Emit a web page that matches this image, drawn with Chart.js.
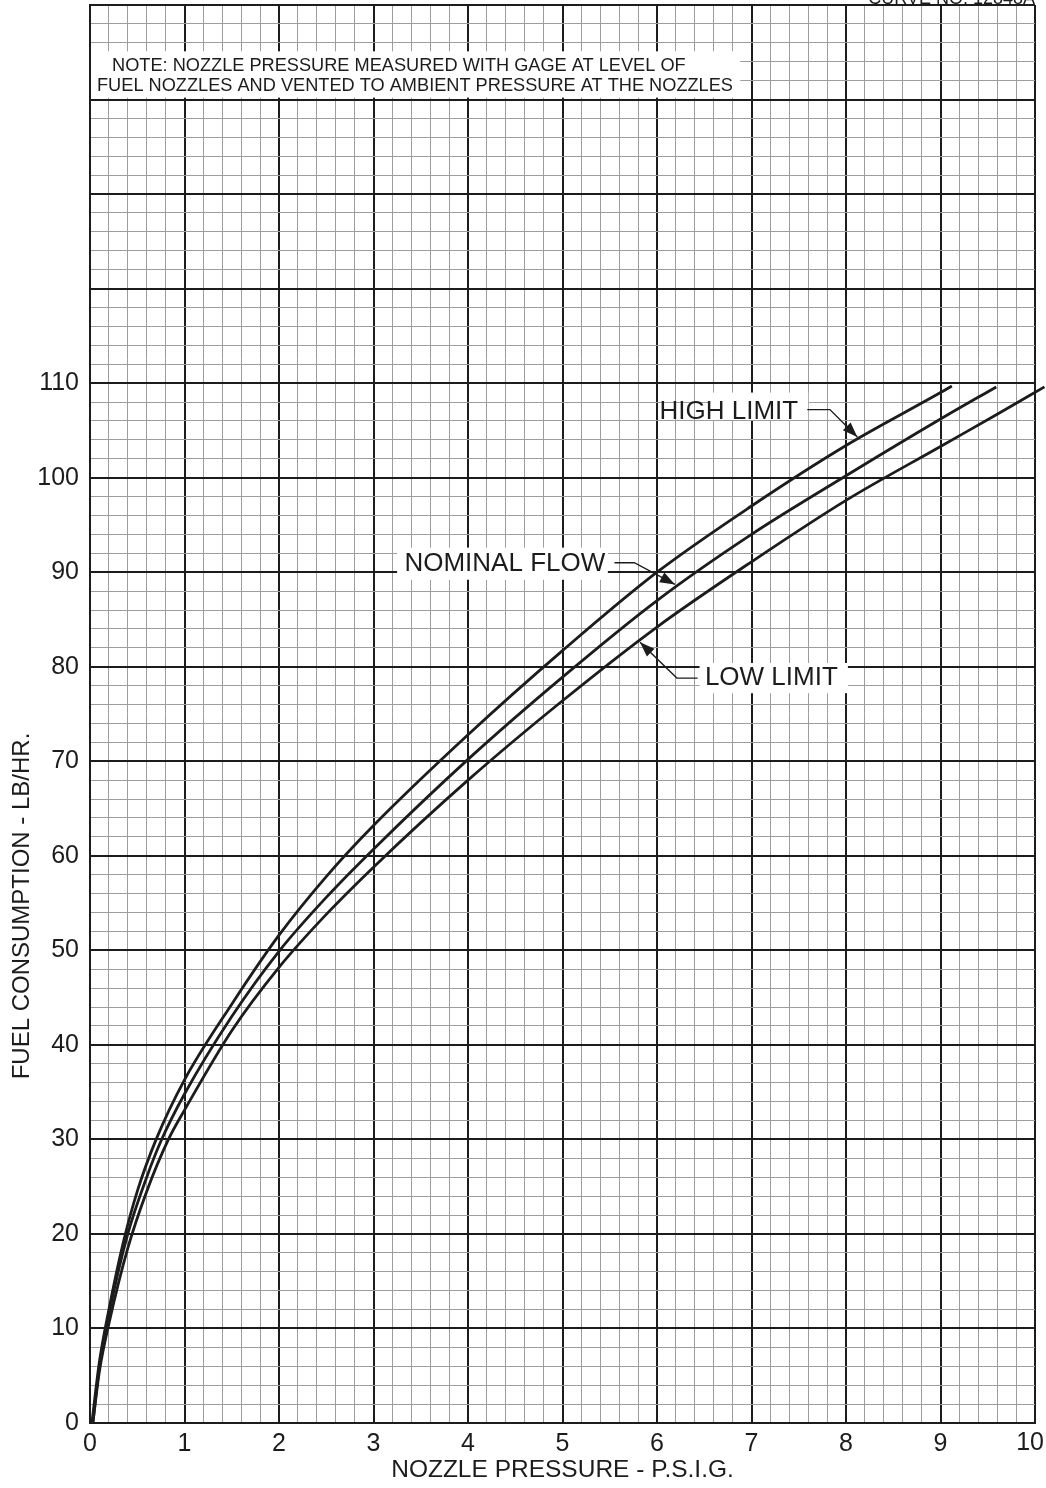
<!DOCTYPE html>
<html>
<head>
<meta charset="utf-8">
<script src="https://cdn.jsdelivr.net/npm/chart.js@4.4.1/dist/chart.umd.min.js"></script>
<style>
  html, body { margin: 0; padding: 0; background: #fff; }
  #wrap { width: 1046px; height: 1488px; }
</style>
</head>
<body>
<div id="wrap"><canvas id="fuelChart" width="1046" height="1488"></canvas></div>
<script>
// curve readings (pressure psig -> lb/hr)
const highX = [0.02, 0.1, 0.2, 0.35, 0.5, 0.7, 1, 1.5, 2, 2.5, 3, 4, 5, 6, 7, 8, 9, 9.12];
const highY = [0, 6.5, 12, 19, 24.5, 30, 36.3, 44.3, 51.6, 57.8, 63.2, 72.8, 81.7, 90, 97, 103.4, 109, 109.7];

const nominalX = [0.03, 0.1, 0.2, 0.4, 0.6, 0.75, 1, 1.5, 2, 2.5, 3, 4, 5, 6, 7, 8, 9, 9.59];
const nominalY = [0, 6, 11.5, 20, 26, 29.8, 34.8, 43, 49.9, 55.6, 60.7, 70.2, 78.9, 87, 94, 100.2, 106.2, 109.6];

// the low limit runs a little past the 10 psig edge
const lowX = [0.03, 0.1, 0.2, 0.4, 0.6, 0.83, 1, 1.5, 2, 2.5, 3, 4, 5, 6, 7, 8, 9, 9.6, 10.1];
const lowY = [0, 5.5, 10.5, 18.5, 24.5, 30, 33.1, 41.5, 48.2, 53.8, 58.8, 68, 76.4, 84.2, 91.1, 97.6, 103.3, 106.7, 109.6];

const xTickLabels = ['0', '1', '2', '3', '4', '5', '6', '7', '8', '9', '10'];
const yTickLabels = ['0', '10', '20', '30', '40', '50', '60', '70', '80', '90', '100', '110'];

const FONT = '"Liberation Sans", Arial, sans-serif';
const INK = '#1c1c1c';

function pts(xs, ys) {
  return xs.map((x, i) => ({ x: x, y: ys[i] }));
}

function isMajorX(v) { return Math.abs(v - Math.round(v)) < 1e-6; }
function isMajorY(v) { return Math.abs(v / 10 - Math.round(v / 10)) < 1e-6; }

// callout labels, in data units: text centre, white box, leader path ending at arrow tip
const callouts = [
  { text: 'HIGH LIMIT', cx: 6.76, cy: 107.0, box: [6.55, 106.1, 7.60, 109.0],
    path: [[7.59, 107.2], [7.83, 107.2], [8.12, 104.3]] },
  { text: 'NOMINAL FLOW', cx: 4.39, cy: 90.9, box: [3.25, 89.2, 5.48, 92.6],
    path: [[5.55, 91.0], [5.76, 91.0], [6.19, 88.7]] },
  { text: 'LOW LIMIT', cx: 7.21, cy: 78.8, box: [6.45, 77.2, 8.02, 80.4],
    path: [[6.43, 78.8], [6.21, 78.8], [5.82, 82.6]] }
];

const annotate = {
  id: 'annotate',
  afterDatasetsDraw(chart) {
    const c = chart.ctx;
    const xs = chart.scales.x, ys = chart.scales.y;
    const px = v => xs.getPixelForValue(v);
    const py = v => ys.getPixelForValue(v);
    c.save();

    // note box at top
    c.fillStyle = '#fff';
    c.fillRect(px(0) + 1, py(145.1), px(6.88) - px(0) - 1, py(140.2) - py(145.1));
    c.fillStyle = INK;
    c.font = '18.2px ' + FONT;
    c.textBaseline = 'middle';
    c.textAlign = 'left';
    c.fillText('NOTE: NOZZLE PRESSURE MEASURED WITH GAGE AT LEVEL OF', 112, 66);
    c.fillText('FUEL NOZZLES AND VENTED TO AMBIENT PRESSURE AT THE NOZZLES', 97, 86);

    // curve number, cut at top edge
    c.font = '18px ' + FONT;
    c.textAlign = 'right';
    c.textBaseline = 'alphabetic';
    c.fillText('CURVE NO. 12848A', 1035, 4);

    // last x tick label, pulled in to fit the page
    c.font = '25px ' + FONT;
    c.textAlign = 'right';
    c.textBaseline = 'middle';
    c.fillText(xTickLabels[10], 1044, 1443);

    callouts.forEach(cl => {
      const b = cl.box;
      c.fillStyle = '#fff';
      c.fillRect(px(b[0]), py(b[3]), px(b[2]) - px(b[0]), py(b[1]) - py(b[3]));
      c.fillStyle = INK;
      c.font = '26px ' + FONT;
      c.textAlign = 'center';
      c.textBaseline = 'middle';
      c.fillText(cl.text, px(cl.cx), py(cl.cy));

      c.strokeStyle = INK;
      c.lineWidth = 1.4;
      c.beginPath();
      cl.path.forEach((p, i) => {
        if (i === 0) c.moveTo(px(p[0]), py(p[1]));
        else c.lineTo(px(p[0]), py(p[1]));
      });
      c.stroke();

      const n = cl.path.length;
      const tx = px(cl.path[n - 1][0]), ty = py(cl.path[n - 1][1]);
      const fx = px(cl.path[n - 2][0]), fy = py(cl.path[n - 2][1]);
      const a = Math.atan2(ty - fy, tx - fx);
      const len = 15, half = 5.5;
      c.beginPath();
      c.moveTo(tx, ty);
      c.lineTo(tx - len * Math.cos(a) + half * Math.sin(a), ty - len * Math.sin(a) - half * Math.cos(a));
      c.lineTo(tx - len * Math.cos(a) - half * Math.sin(a), ty - len * Math.sin(a) + half * Math.cos(a));
      c.closePath();
      c.fill();
    });

    // y axis title
    c.save();
    c.translate(22, 906);
    c.rotate(-Math.PI / 2);
    c.font = '24px ' + FONT;
    c.textAlign = 'center';
    c.textBaseline = 'middle';
    c.fillStyle = INK;
    c.fillText('FUEL CONSUMPTION - LB/HR.', 0, 0);
    c.restore();

    c.restore();
  }
};

const lineStyle = {
  borderColor: INK,
  borderWidth: 2.8,
  pointRadius: 0,
  fill: false,
  cubicInterpolationMode: 'monotone',
  clip: false
};

new Chart(document.getElementById('fuelChart').getContext('2d'), {
  type: 'line',
  data: {
    datasets: [
      Object.assign({ label: 'High limit', data: pts(highX, highY) }, lineStyle),
      Object.assign({ label: 'Nominal flow', data: pts(nominalX, nominalY) }, lineStyle),
      Object.assign({ label: 'Low limit', data: pts(lowX, lowY) }, lineStyle)
    ]
  },
  options: {
    responsive: false,
    devicePixelRatio: 1,
    animation: false,
    layout: { padding: { left: 0, right: 11, top: 5, bottom: 0 } },
    plugins: { legend: { display: false }, tooltip: { enabled: false } },
    scales: {
      x: {
        type: 'linear',
        min: 0,
        max: 10,
        afterFit(s) { s.height = 65; s.paddingLeft = 0; s.paddingRight = 0; },
        ticks: {
          stepSize: 0.2,
          autoSkip: false,
          maxRotation: 0,
          padding: 6,
          color: INK,
          font: { family: FONT, size: 25 },
          // "10" is drawn by the plugin, nudged left like the original
          callback: v => (isMajorX(v) && Math.round(v) < 10) ? xTickLabels[Math.round(v)] : ''
        },
        grid: {
          drawTicks: false,
          color: ctx => isMajorX(ctx.tick.value) ? INK : '#9d9d9d',
          lineWidth: ctx => isMajorX(ctx.tick.value) ? 2 : 1
        },
        border: { display: true, color: INK, width: 2 },
        title: {
          display: true,
          text: 'NOZZLE PRESSURE - P.S.I.G.',
          color: INK,
          font: { family: FONT, size: 24.5 },
          padding: { top: 0, bottom: 3 }
        }
      },
      y: {
        type: 'linear',
        min: 0,
        max: 150,
        afterFit(s) { s.width = 90; s.paddingTop = 0; s.paddingBottom = 0; },
        ticks: {
          stepSize: 2,
          autoSkip: false,
          padding: 11,
          color: INK,
          font: { family: FONT, size: 25 },
          callback: v => (isMajorY(v) && v <= 110) ? yTickLabels[Math.round(v / 10)] : ''
        },
        grid: {
          drawTicks: false,
          color: ctx => isMajorY(ctx.tick.value) ? INK : '#9d9d9d',
          lineWidth: ctx => isMajorY(ctx.tick.value) ? 2 : 1
        },
        border: { display: true, color: INK, width: 2 }
      }
    }
  },
  plugins: [annotate]
});
</script>
</body>
</html>
